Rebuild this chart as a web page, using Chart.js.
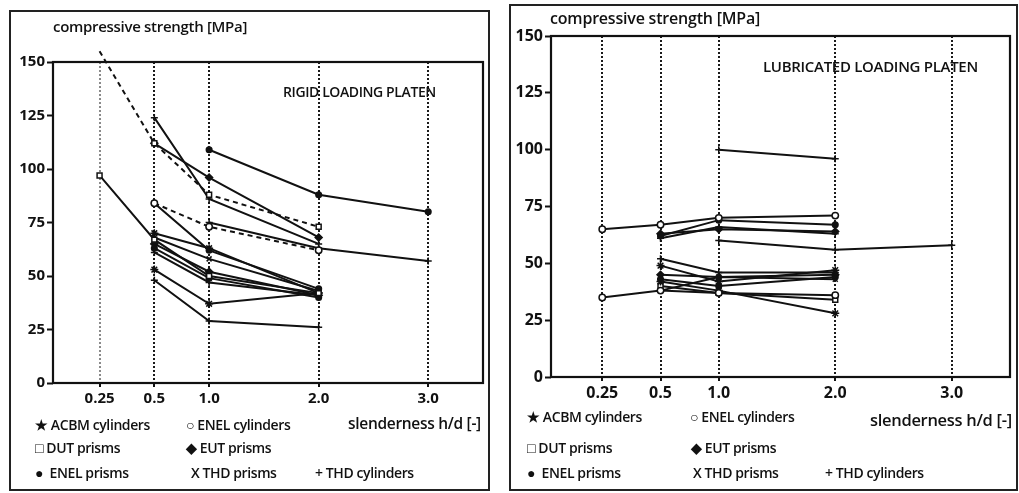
<!DOCTYPE html>
<html>
<head>
<meta charset="utf-8">
<script src="https://cdn.jsdelivr.net/npm/chart.js@4/dist/chart.umd.min.js"></script>
<style>
  body { margin: 0; background: #fff; width: 1019px; height: 493px; position: relative; overflow: hidden;
         font-family: "Open Sans", sans-serif; color: #111; }
  .frame { position: absolute; border: 2px solid #222; box-sizing: border-box; }
  .txt { position: absolute; white-space: nowrap; line-height: 1; font-weight: 600; }
  .leg { font-size: 14px; letter-spacing: -0.4px; }
  canvas { position: absolute; top: 0; }
</style>
</head>
<body>
<div class="frame" style="left:9px;top:10px;width:481px;height:481px"></div>
<div class="frame" style="left:509px;top:4px;width:509px;height:487px"></div>

<canvas id="rigid" width="496" height="493" style="left:0"></canvas>
<canvas id="lubricated" width="514" height="493" style="left:505px"></canvas>

<!-- rigid platen texts -->
<div class="txt" style="left:53px;top:19px;font-size:15px;letter-spacing:-0.3px">compressive strength [MPa]</div>
<div class="txt" style="left:283px;top:85px;font-size:14px;letter-spacing:-0.4px">RIGID LOADING PLATEN</div>
<div class="txt leg" style="left:35px;top:418px">★ ACBM cylinders</div>
<div class="txt leg" style="left:186px;top:418px">○ ENEL cylinders</div>
<div class="txt" style="left:348px;top:416px;font-size:15.5px;letter-spacing:-0.3px">slenderness h/d [-]</div>
<div class="txt leg" style="left:35px;top:441px">□ DUT prisms</div>
<div class="txt leg" style="left:186px;top:441px">◆ EUT prisms</div>
<div class="txt leg" style="left:35px;top:466px">●&nbsp; ENEL prisms</div>
<div class="txt leg" style="left:191px;top:466px">X THD prisms</div>
<div class="txt leg" style="left:315px;top:466px">+ THD cylinders</div>

<!-- lubricated platen texts -->
<div class="txt" style="left:550px;top:10px;font-size:16px;letter-spacing:-0.2px">compressive strength [MPa]</div>
<div class="txt" style="left:763px;top:59px;font-size:15px;letter-spacing:-0.3px">LUBRICATED LOADING PLATEN</div>
<div class="txt leg" style="left:527px;top:410px">★ ACBM cylinders</div>
<div class="txt leg" style="left:690px;top:410px">○ ENEL cylinders</div>
<div class="txt" style="left:870px;top:412px;font-size:16.5px;letter-spacing:-0.3px">slenderness h/d [-]</div>
<div class="txt leg" style="left:527px;top:441px">□ DUT prisms</div>
<div class="txt leg" style="left:691px;top:441px">◆ EUT prisms</div>
<div class="txt leg" style="left:527px;top:466px">●&nbsp; ENEL prisms</div>
<div class="txt leg" style="left:693px;top:466px">X THD prisms</div>
<div class="txt leg" style="left:825px;top:466px">+ THD cylinders</div>

<script>
// ---------------------------------------------------
// Slenderness axis: h/d values and where they sit
// (the drawing's axis is not linear in h/d)
// ---------------------------------------------------
var slenderness = [0.25, 0.5, 1.0, 2.0, 3.0];
var axisPos = [1, 2, 3, 5, 7];
var tickLabels = ['0.25', '0.5', '1.0', '2.0', '3.0'];
var strengthTicks = [0, 25, 50, 75, 100, 125, 150];

// Rigid loading platen - strength [MPa] at h/d 0.25 / 0.5 / 1.0 / 2.0 / 3.0
var rigidValues = [
  [155, 112, 88, 73, null],
  [97, 67, 50, 42, null],
  [null, 124, 86, 65, null],
  [null, 112, 96, 68, null],
  [null, null, 109, 88, 80],
  [null, 84, 73, 62, null],
  [null, 84, 62, 44, null],
  [null, null, 75, 63, 57],
  [null, 70, 63, 42, null],
  [null, 68, 58, 43, null],
  [null, 65, 52, 41, null],
  [null, 63, 49, 40, null],
  [null, 61, 47, 41, null],
  [null, 53, 37, 42, null],
  [null, 48, 29, 26, null]
];
var rigidMarkers = ['DUT', 'DUT', 'THDc', 'EUT', 'ENELp', 'ENELc', 'ENELp', 'THDc',
                    'ACBM', 'THDp', 'EUT', 'ENELp', 'THDc', 'ACBM', 'THDc'];
var rigidDashed = [true, false, false, false, false, true, false, false,
                   false, false, false, false, false, false, false];

// Lubricated loading platen
var lubricatedValues = [
  [65, 67, 70, 71, null],
  [35, 38, 37, 36, null],
  [null, null, 100, 96, null],
  [null, 62, 69, 67, null],
  [null, 61, 66, 63, null],
  [null, 63, 65, 64, null],
  [null, null, 60, 56, 58],
  [null, 52, 46, 46, null],
  [null, 49, 42, 47, null],
  [null, 45, 44, 45, null],
  [null, 43, 40, 44, null],
  [null, 42, 38, 28, null],
  [null, 40, 37, 34, null],
  [null, 38, 44, 43, null]
];
var lubricatedMarkers = ['ENELc', 'ENELc', 'THDc', 'ENELp', 'THDc', 'EUT', 'THDc',
                         'THDc', 'ACBM', 'EUT', 'ENELp', 'ACBM', 'DUT', 'THDp'];

var INK = '#111';

// marker look for each specimen type
var markerStyles = {
  ACBM:  { style: 'star',     radius: 4,   fill: INK },
  DUT:   { style: 'rect',     radius: 3.5, fill: '#fff' },
  ENELp: { style: 'circle',   radius: 2.8, fill: INK },
  ENELc: { style: 'circle',   radius: 3.2, fill: '#fff' },
  EUT:   { style: 'rectRot',  radius: 3.5, fill: INK },
  THDp:  { style: 'crossRot', radius: 3.5, fill: INK },
  THDc:  { style: 'cross',    radius: 3.5, fill: INK }
};

/**
 * Turn one row of values into {x, y} points on the drawing axis
 */
function toPoints(row) {
  var pts = [];
  row.forEach(function(v, i) {
    if (v !== null) pts.push({ x: axisPos[i], y: v });
  });
  return pts;
}

function buildDatasets(values, markers, dashed) {
  return values.map(function(row, i) {
    var m = markerStyles[markers[i]];
    return {
      data: toPoints(row),
      borderColor: INK,
      borderWidth: 2,
      borderDash: dashed && dashed[i] ? [5, 4] : [],
      pointStyle: m.style,
      pointRadius: m.radius,
      pointBackgroundColor: m.fill,
      pointBorderColor: INK,
      pointBorderWidth: 1.5,
      tension: 0,
      clip: false
    };
  });
}

// frame round the plot area
var plotFrame = {
  id: 'plotFrame',
  afterDraw: function(chart) {
    var a = chart.chartArea;
    var ctx = chart.ctx;
    ctx.save();
    ctx.strokeStyle = INK;
    ctx.lineWidth = 2.2;
    ctx.strokeRect(a.left, a.top, a.right - a.left, a.bottom - a.top);
    ctx.restore();
  }
};

function makeChart(canvasId, datasets, opts) {
  return new Chart(document.getElementById(canvasId), {
    type: 'line',
    data: { datasets: datasets },
    options: {
      responsive: false,
      animation: false,
      layout: { padding: opts.padding },
      plugins: { legend: { display: false }, tooltip: { enabled: false } },
      scales: {
        x: {
          type: 'linear',
          min: opts.xMin,
          max: 8,
          afterBuildTicks: function(scale) {
            scale.ticks = axisPos.map(function(p) { return { value: p }; });
          },
          afterFit: function(scale) { scale.height = 30; },
          ticks: {
            autoSkip: false,
            maxRotation: 0,
            padding: 3,
            color: INK,
            font: { family: 'Open Sans', size: opts.tickSize, weight: '700' },
            callback: function(value) {
              var i = axisPos.indexOf(value);
              return i < 0 ? '' : tickLabels[i];
            }
          },
          grid: {
            color: function(context) {
              return opts.lightFirst && context.tick && context.tick.value === axisPos[0] ? '#8a8a8a' : '#1a1a1a';
            },
            lineWidth: 2,
            tickLength: 4,
            tickColor: INK
          },
          border: { display: false, dash: [2, 2] }
        },
        y: {
          min: 0,
          max: 150,
          afterBuildTicks: function(scale) {
            scale.ticks = strengthTicks.map(function(v) { return { value: v }; });
          },
          afterFit: function(scale) { scale.width = opts.yWidth; },
          ticks: {
            padding: 2,
            color: INK,
            font: { family: 'Open Sans', size: opts.tickSize, weight: '700' }
          },
          grid: {
            drawOnChartArea: false,
            tickLength: 6,
            tickWidth: 2,
            color: INK
          },
          border: { display: false }
        }
      }
    },
    plugins: [plotFrame]
  });
}

makeChart('rigid', buildDatasets(rigidValues, rigidMarkers, rigidDashed), {
  padding: { left: 10, right: 13, top: 62, bottom: 80 },
  xMin: 0.15,
  yWidth: 43,
  tickSize: 15,
  lightFirst: true
});

makeChart('lubricated', buildDatasets(lubricatedValues, lubricatedMarkers, null), {
  padding: { left: 6, right: 9, top: 36, bottom: 86 },
  xMin: 0.12,
  yWidth: 40,
  tickSize: 16,
  lightFirst: false
});
</script>
</body>
</html>
